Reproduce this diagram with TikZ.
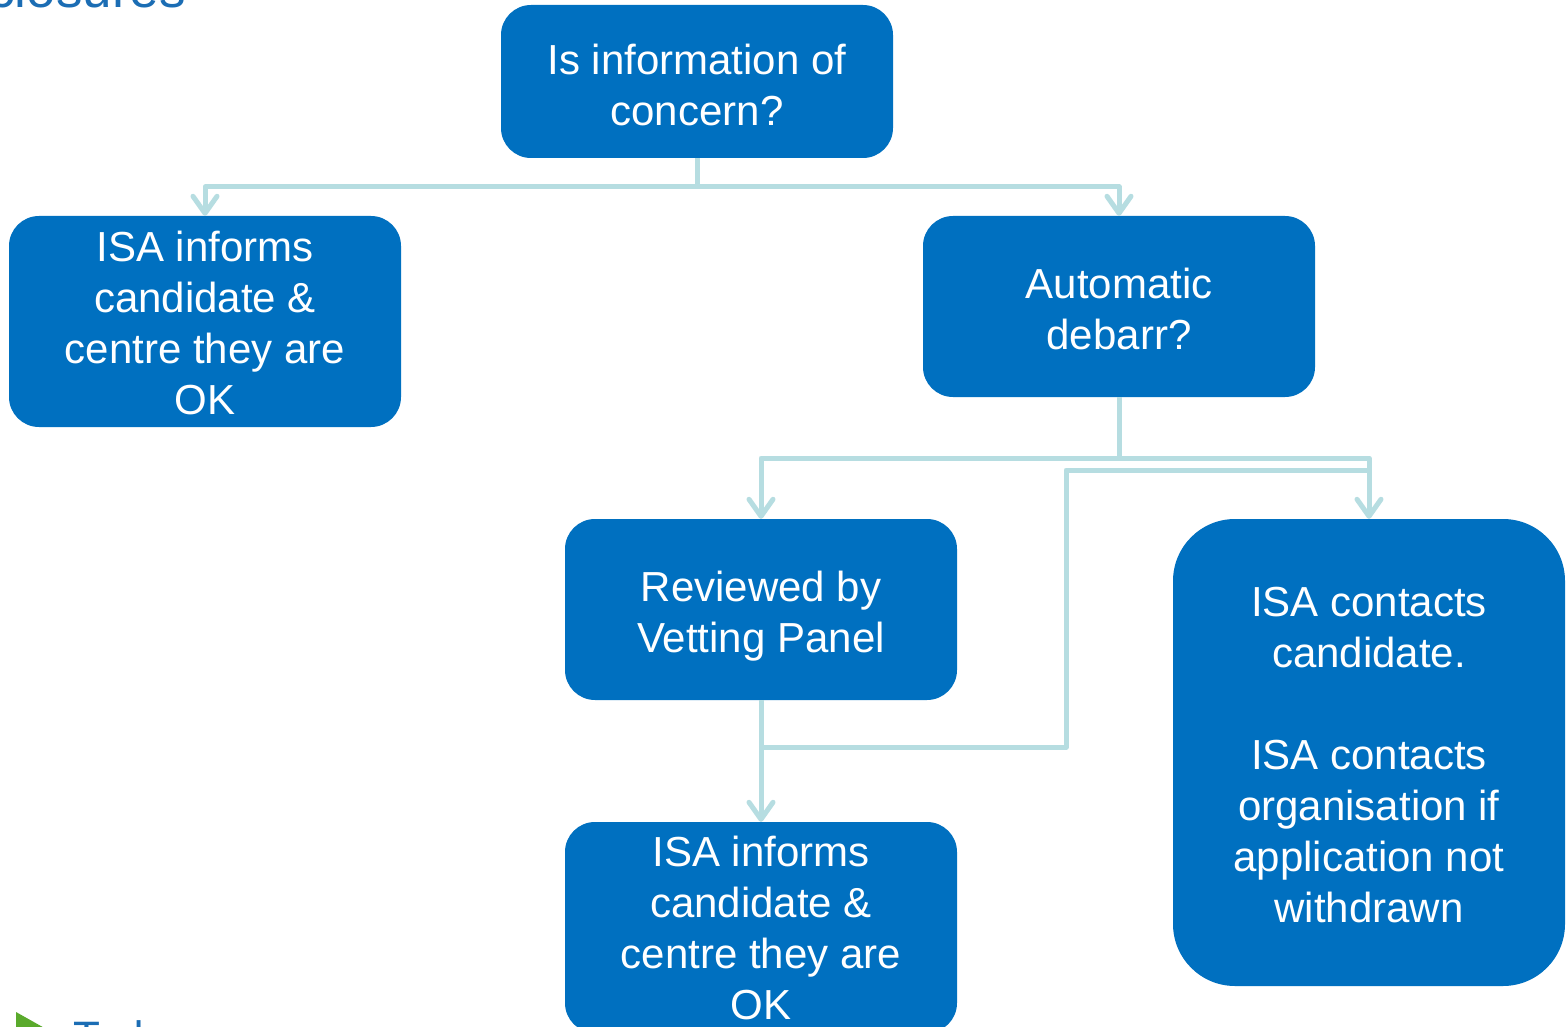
\documentclass[tikz,border=0pt]{standalone}
\usepackage{fontspec}
\setmainfont{Liberation Sans}
\usetikzlibrary{arrows.meta}
\definecolor{boxblue}{HTML}{0070C0}
\definecolor{linecol}{HTML}{B6DDE1}
\definecolor{titleblue}{HTML}{1B6DB4}
\definecolor{icongreen}{HTML}{5AAA2C}
\tikzset{
  flowbox/.style={rectangle, rounded corners=30pt, fill=boxblue,
    minimum width=392pt, inner sep=0pt},
  boxtext/.style={text=white, inner sep=0pt, align=center,
    font=\fontsize{42}{51}\selectfont},
  conn/.style={draw=linecol, line width=5pt, line join=round},
  arr/.style={conn, -{Straight Barb[length=17pt,width=24pt,round]}}
}
\begin{document}
\begin{tikzpicture}[x=1pt,y=-1pt]
\useasboundingbox (0,0) rectangle (1567,1027);
\clip (0,0) rectangle (1567,1027);
\fill[white] (0,0) rectangle (1567,1027);

% fragments at the edges
\node[anchor=base east, inner sep=0pt, text=titleblue, font=\fontsize{53}{60}\selectfont] (title) at (186,8) {Disclosures};
\fill[icongreen] (16,1012) -- (16,1048) -- (48,1030) -- cycle;
\node[anchor=base west, inner sep=0pt, text=titleblue, font=\fontsize{44}{50}\selectfont] (foot) at (73,1052) {Today};

% boxes
\node[flowbox, minimum height=153pt] (top) at (697,81.5) {};
\node[flowbox, minimum height=211pt] (left) at (205,321.5) {};
\node[flowbox, minimum height=181pt] (auto) at (1119,306.5) {};
\node[flowbox, minimum height=181pt] (rev) at (761,609.5) {};
\node[flowbox, minimum height=211pt] (bot) at (761,927.5) {};
\node[flowbox, rounded corners=62pt, minimum height=467pt] (right) at (1369,752.5) {};

% box texts
\node[boxtext] (toptext) at ([yshift=-3pt]top.center) {Is information of\\concern?};
\node[boxtext] (lefttext) at ([yshift=-1.5pt]left.center) {ISA informs\\candidate \&\\centre they are\\OK};
\node[boxtext] (autotext) at ([yshift=-2pt]auto.center) {Automatic\\debarr?};
\node[boxtext] (revtext) at ([yshift=-6.5pt]rev.center) {Reviewed by\\Vetting Panel};
\node[boxtext] (bottext) at ([yshift=-0.5pt]bot.center) {ISA informs\\candidate \&\\centre they are\\OK};
\node[boxtext] (righttext) at ([yshift=-2.5pt]right.center) {ISA contacts\\candidate.\\[51pt]ISA contacts\\organisation if\\application not\\withdrawn};

% connectors
\coordinate (j1) at (697,187);
\coordinate (j2) at (1119,458);
\coordinate (j3) at (1369,458);
\coordinate (j4) at (1369,470);
\coordinate (k1) at (1066,470);
\coordinate (k2) at (1066,747);
\coordinate (j5) at (761,747);

\draw[conn] (top.south) -- (j1);
\draw[arr] (j1) -| (left.north);
\draw[arr] (j1) -| (auto.north);

\draw[conn] (auto.south) -- (j2);
\draw[arr] (j2) -| (rev.north);
\draw[arr] (j2) -| (right.north);

\draw[conn] (j3) -- (j4) -- (k1) -- (k2) -- (j5);
\draw[arr] (rev.south) -- (bot.north);
\end{tikzpicture}
\end{document}
